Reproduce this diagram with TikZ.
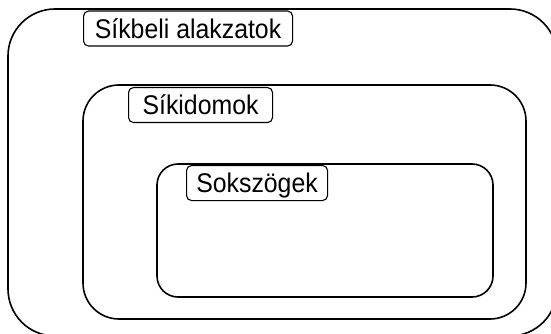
\documentclass[tikz,border=0pt]{standalone}
\usepackage{fontspec}
\setmainfont{Liberation Sans}
\newfontfamily\lblfont[FakeStretch=0.92]{Liberation Sans}
\begin{document}
\begin{tikzpicture}[x=1pt,y=-1pt,
  container/.style={draw=black, line width=1.6pt, inner sep=0pt, outer sep=0pt, anchor=north west},
  labelbox/.style={draw=black, line width=1.1pt, fill=white, rounded corners=5pt, anchor=north west,
    inner sep=0pt, text height=19.5pt, text depth=0pt, minimum height=35pt,
    font=\lblfont\fontsize{27}{32}\selectfont}]
\useasboundingbox (0,0) rectangle (551,334);
\clip (0,0) rectangle (551,334);
\fill[white] (0,0) rectangle (551,334);
\node[container, rounded corners=47pt, minimum width=549pt, minimum height=327pt] (outer) at (8,9) {};
\node[container, rounded corners=36pt, minimum width=443pt, minimum height=234pt] (mid) at (83,85) {};
\node[container, rounded corners=21pt, minimum width=336pt, minimum height=133pt] (inner) at (157,164) {};
\node[labelbox, minimum width=209pt] (l1) at (83,10.5) {Síkbeli alakzatok};
\node[labelbox, minimum width=144pt] (l2) at (128,87) {Síkidomok};
\node[labelbox, minimum width=141pt] (l3) at (186,165) {Sokszögek};
\end{tikzpicture}
\end{document}
